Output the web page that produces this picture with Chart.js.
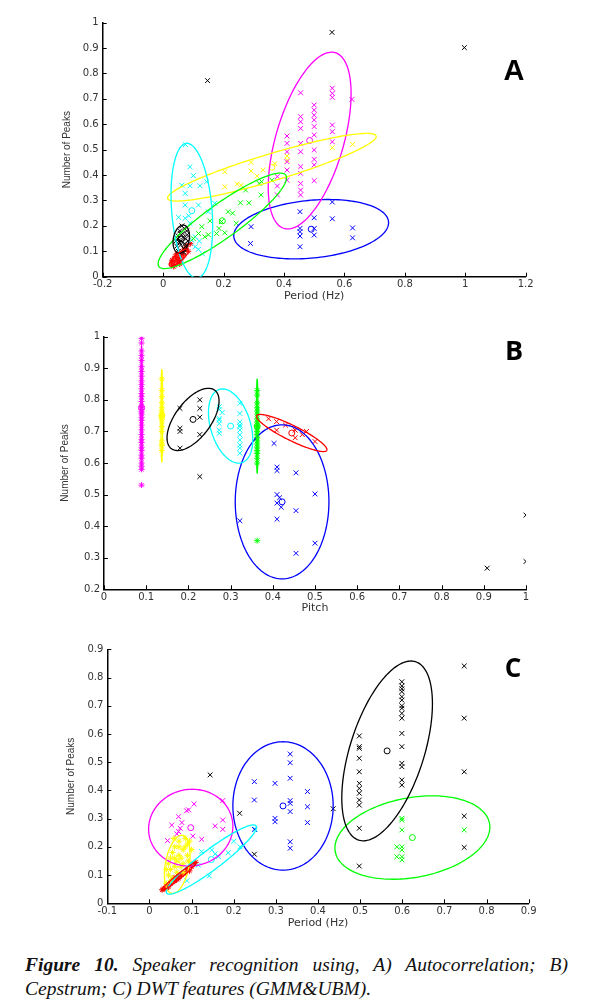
<!DOCTYPE html>
<html>
<head>
<meta charset="utf-8">
<script src="https://cdn.jsdelivr.net/npm/chart.js@4.4.0/dist/chart.umd.min.js"></script>
<style>
  html, body { margin:0; padding:0; background:#fff; }
  body { width:589px; height:1001px; position:relative; overflow:hidden; }
  .panel { position:absolute; left:0; width:589px; }
  .tag { position:absolute; line-height:1; color:#000; font-weight:bold; transform:translate(-50%,-50%); }
  .cap { position:absolute; left:25px; width:543px; font-family:"Liberation Serif", serif; font-style:italic; font-size:19.5px; line-height:24px; color:#111; white-space:nowrap; }
</style>
</head>
<body>
<div class="panel" style="top:0;height:310px"><canvas id="cA" width="589" height="310"></canvas></div>
<div class="panel" style="top:310px;height:310px"><canvas id="cB" width="589" height="310"></canvas></div>
<div class="panel" style="top:620px;height:320px"><canvas id="cC" width="589" height="320"></canvas></div>
<div class="tag" style="left:514px;top:70px;font-family:'Liberation Sans',Arial,sans-serif;font-size:29px">A</div>
<div class="tag" style="left:514px;top:349px;font-family:'Open Sans',sans-serif;font-size:27px">B</div>
<div class="tag" style="left:513px;top:667px;font-family:'Open Sans',sans-serif;font-size:26px">C</div>
<div class="cap" style="top:953px;text-align:justify;text-align-last:justify;white-space:normal"><b>Figure 10.</b> Speaker recognition using, A) Autocorrelation; B)</div>
<div class="cap" style="top:977px">Cepstrum; C) DWT features (GMM&amp;UBM).</div>
<script>
// ---------- tick values ----------
const A_xTicks = [-0.2, 0, 0.2, 0.4, 0.6, 0.8, 1, 1.2];
const A_yTicks = [0, 0.1, 0.2, 0.3, 0.4, 0.5, 0.6, 0.7, 0.8, 0.9, 1];
const B_xTicks = [0, 0.1, 0.2, 0.3, 0.4, 0.5, 0.6, 0.7, 0.8, 0.9, 1];
const B_yTicks = [0.2, 0.3, 0.4, 0.5, 0.6, 0.7, 0.8, 0.9, 1];
const C_xTicks = [-0.1, 0, 0.1, 0.2, 0.3, 0.4, 0.5, 0.6, 0.7, 0.8, 0.9];
const C_yTicks = [0, 0.1, 0.2, 0.3, 0.4, 0.5, 0.6, 0.7, 0.8, 0.9];

// ---------- axis titles ----------
const A_titles = ['Period (Hz)', 'Number of Peaks'];
const B_titles = ['Pitch', 'Number of Peaks'];
const C_titles = ['Period (Hz)', 'Number of Peaks'];

// ---------- series names (order used by ellipse arrays) ----------
const seriesNames = ['blue', 'magenta', 'yellow', 'green', 'cyan', 'black', 'red'];

// ---------- Panel A : Autocorrelation ----------
const A_blue = [[0.291,0.197],[0.289,0.131],[0.453,0.256],[0.453,0.19],[0.453,0.177],[0.453,0.16],[0.453,0.118],[0.5,0.232],[0.5,0.19],[0.5,0.164],[0.56,0.294],[0.56,0.228],[0.627,0.192],[0.627,0.153]];
const A_magenta = [[0.378,0.394],[0.378,0.357],[0.378,0.322],
  [0.41,0.554],[0.41,0.525],[0.41,0.492],[0.41,0.453],[0.41,0.42],[0.41,0.38],
  [0.455,0.724],[0.455,0.63],[0.455,0.61],[0.455,0.584],[0.455,0.525],[0.455,0.492],[0.455,0.433],[0.455,0.407],[0.455,0.367],[0.455,0.341],[0.455,0.322],
  [0.5,0.676],[0.5,0.656],[0.5,0.636],[0.5,0.617],[0.5,0.591],[0.5,0.558],[0.5,0.499],[0.5,0.462],[0.5,0.44],[0.5,0.378],
  [0.56,0.742],[0.56,0.722],[0.56,0.706],[0.56,0.597],[0.56,0.571],[0.56,0.531],[0.625,0.698]];
const A_yellow = [[0.204,0.413],[0.291,0.416],[0.311,0.396],[0.204,0.354],[0.245,0.365],[0.291,0.45],[0.411,0.459],[0.627,0.521],[0.56,0.508],[0.37,0.445],[0.41,0.475],[0.258,0.36],[0.33,0.42]];
const A_green = [[0.284,0.291],[0.256,0.291],[0.273,0.341],[0.324,0.322],[0.326,0.374],[0.215,0.256],[0.193,0.217],[0.155,0.22],[0.128,0.197],[0.138,0.157],[0.117,0.17],[0.177,0.17],[0.185,0.19],[0.204,0.173],[0.242,0.21],[0.318,0.367],[0.15,0.165],[0.23,0.25],[0.36,0.38],[0.1,0.15]];
const A_cyan = [[0.074,0.52],[0.089,0.433],[0.1,0.398],[0.089,0.358],[0.122,0.358],[0.144,0.374],[0.073,0.328],[0.062,0.36],[0.073,0.282],[0.117,0.282],[0.171,0.289],[0.149,0.256],[0.051,0.234],[0.073,0.23],[0.089,0.21],[0.106,0.157],[0.106,0.118],[0.117,0.108],[0.095,0.144],[0.12,0.14],[0.085,0.24],[0.13,0.09]];
const A_black = [[0.045,0.12],[0.05,0.16],[0.055,0.18],[0.06,0.14],[0.065,0.17],[0.07,0.19],[0.075,0.15],[0.08,0.165],[0.05,0.1],[0.058,0.125],[0.068,0.11],[0.072,0.13],[0.042,0.14],[0.062,0.2],[0.078,0.18],[0.048,0.15],[0.066,0.155],[0.054,0.135],[0.074,0.12],[0.082,0.14],[0.057,0.17],[0.069,0.095],[0.147,0.772],[0.559,0.962],[0.997,0.902]];
const A_red = [[0.028,0.05],[0.033,0.06],[0.038,0.045],[0.043,0.07],[0.048,0.055],[0.04,0.08],[0.053,0.075],[0.058,0.09],[0.063,0.1],[0.068,0.085],[0.073,0.11],[0.078,0.12],[0.083,0.1],[0.09,0.13],[0.035,0.04],[0.05,0.065],[0.06,0.07],[0.045,0.09],[0.03,0.065],[0.055,0.05]];
// ellipses: [centreX, centreY, axis1X, axis1Y, axis2X, axis2Y] in data units
const A_ellipses = [
  [0.49, 0.187, 0.256, 0.03, -0.01, 0.113],
  [0.485, 0.536, 0.0845, 0.346, 0.108, -0.037],
  [0.36, 0.431, 0.345, 0.123, 0.0129, -0.051],
  [0.196, 0.22, 0.21, 0.18, 0.033, -0.054],
  [0.095, 0.26, -0.016, 0.265, 0.067, 0.0],
  [0.06, 0.148, 0.008, 0.055, 0.026, -0.004],
  [0.052, 0.075, 0.03, 0.032, 0.01, -0.01]
];

// ---------- Panel B : Cepstrum ----------
const B_blue = [[0.403,0.662],[0.41,0.587],[0.41,0.576],[0.455,0.569],[0.41,0.5],[0.41,0.473],[0.41,0.422],[0.455,0.449],[0.322,0.417],[0.5,0.502],[0.5,0.346],[0.455,0.314],[0.416,0.49],[0.42,0.46]];
const B_magenta = [[0.089,0.995],[0.089,0.98],[0.089,0.955],[0.089,0.94],[0.089,0.925],[0.089,0.905],[0.089,0.89],[0.089,0.875],[0.089,0.86],[0.089,0.848],[0.089,0.835],[0.089,0.82],[0.089,0.81],[0.089,0.795],[0.089,0.78],[0.089,0.77],[0.089,0.762],[0.089,0.755],[0.089,0.745],[0.089,0.735],[0.089,0.72],[0.089,0.705],[0.089,0.69],[0.089,0.675],[0.089,0.665],[0.089,0.65],[0.089,0.64],[0.089,0.625],[0.089,0.615],[0.089,0.6],[0.089,0.59],[0.089,0.58],[0.089,0.53]];
const B_yellow = [[0.137,0.866],[0.137,0.83],[0.137,0.81],[0.137,0.79],[0.137,0.775],[0.137,0.765],[0.137,0.757],[0.137,0.75],[0.137,0.745],[0.137,0.74],[0.137,0.73],[0.137,0.715],[0.137,0.7],[0.137,0.67],[0.137,0.66],[0.137,0.655],[0.137,0.64]];
const B_green = [[0.363,0.83],[0.363,0.815],[0.363,0.79],[0.363,0.775],[0.363,0.765],[0.363,0.755],[0.363,0.74],[0.363,0.73],[0.363,0.72],[0.363,0.715],[0.363,0.71],[0.363,0.7],[0.363,0.69],[0.363,0.68],[0.363,0.67],[0.363,0.66],[0.363,0.65],[0.363,0.64],[0.363,0.63],[0.363,0.615],[0.363,0.6],[0.363,0.354]];
const B_cyan = [[0.273,0.778],[0.273,0.77],[0.273,0.741],[0.273,0.736],[0.273,0.725],[0.273,0.704],[0.273,0.694],[0.28,0.76],
  [0.322,0.789],[0.322,0.757],[0.322,0.73],[0.322,0.72],[0.322,0.715],[0.322,0.704],[0.322,0.689],[0.322,0.673],[0.322,0.657],[0.322,0.647],[0.322,0.631]];
const B_black = [[0.18,0.773],[0.18,0.71],[0.18,0.7],[0.18,0.647],[0.227,0.8],[0.227,0.773],[0.227,0.745],[0.227,0.69],[0.227,0.557],[1.0,0.435],[1.0,0.288],[0.908,0.267]];
const B_red = [[0.409,0.731],[0.409,0.704],[0.453,0.704],[0.453,0.68],[0.5,0.668],[0.43,0.72],[0.47,0.69],[0.39,0.74],[0.48,0.7]];
const B_ellipses = [
  [0.422, 0.477, 0.111, 0.0, 0.0, 0.244],
  [0.089, 0.775, 0.0, 0.195, 0.002, 0.0],
  [0.137, 0.75, 0.0, 0.147, 0.002, 0.0],
  [0.363, 0.717, 0.0, 0.149, 0.002, 0.0],
  [0.3, 0.717, 0.0265, -0.116, 0.0453, 0.0184],
  [0.211, 0.738, 0.0514, 0.0925, 0.034, -0.034],
  [0.445, 0.695, 0.0829, -0.0548, -0.0079, -0.0212]
];

// ---------- Panel C : DWT ----------
const C_blue = [[0.249,0.431],[0.249,0.366],[0.249,0.262],[0.298,0.425],[0.298,0.301],[0.298,0.289],[0.334,0.529],[0.334,0.498],[0.334,0.443],[0.334,0.364],[0.334,0.354],[0.334,0.325],[0.334,0.218],[0.334,0.195],[0.375,0.396],[0.375,0.342],[0.375,0.286]];
const C_magenta = [[0.106,0.352],[0.093,0.331],[0.088,0.328],[0.069,0.307],[0.077,0.286],[0.053,0.277],[0.073,0.266],[0.069,0.254],[0.065,0.246],[0.043,0.222],[0.103,0.238],[0.124,0.227],[0.156,0.274],[0.174,0.295],[0.174,0.262],[0.174,0.364]];
const C_yellow = [[0.04,0.07],[0.045,0.1],[0.05,0.12],[0.055,0.09],[0.06,0.13],[0.065,0.15],[0.07,0.17],[0.075,0.16],[0.08,0.19],[0.085,0.2],[0.09,0.21],[0.095,0.22],[0.06,0.2],[0.07,0.22],[0.05,0.16],[0.045,0.14],[0.08,0.14],[0.09,0.17],[0.065,0.11],[0.075,0.13],[0.055,0.18],[0.085,0.23],[0.04,0.12],[0.1,0.19],[0.07,0.2],[0.06,0.16],[0.05,0.08],[0.08,0.11],[0.092,0.15],[0.058,0.23]];
const C_green = [[0.599,0.301],[0.599,0.295],[0.599,0.26],[0.599,0.2],[0.599,0.189],[0.599,0.165],[0.599,0.154],[0.587,0.2],[0.587,0.165],[0.747,0.26]];
const C_cyan = [[0.148,0.189],[0.156,0.175],[0.164,0.165],[0.124,0.183],[0.187,0.179],[0.215,0.2],[0.251,0.262],[0.142,0.097],[0.116,0.135],[0.089,0.08],[0.1,0.142],[0.2,0.22]];
const C_black = [[0.498,0.593],[0.498,0.555],[0.498,0.549],[0.498,0.514],[0.498,0.466],[0.498,0.425],[0.498,0.407],[0.498,0.39],[0.498,0.366],[0.498,0.348],[0.498,0.266],[0.498,0.132],
  [0.599,0.785],[0.599,0.77],[0.599,0.76],[0.599,0.75],[0.599,0.732],[0.599,0.72],[0.599,0.7],[0.599,0.691],[0.599,0.673],[0.599,0.656],[0.599,0.602],[0.599,0.555],[0.599,0.496],[0.599,0.484],[0.599,0.437],[0.599,0.419],
  [0.747,0.841],[0.747,0.656],[0.747,0.466],[0.747,0.309],[0.747,0.198],[0.144,0.455],[0.214,0.319],[0.249,0.174],[0.436,0.335]];
const C_red = [[0.03,0.048],[0.035,0.052],[0.04,0.06],[0.045,0.058],[0.05,0.07],[0.055,0.075],[0.06,0.08],[0.058,0.09],[0.065,0.085],[0.07,0.095],[0.075,0.1],[0.08,0.105],[0.085,0.11],[0.09,0.12],[0.095,0.115],[0.1,0.13],[0.105,0.14],[0.11,0.145],[0.04,0.05],[0.068,0.088]];
const C_ellipses = [
  [0.317, 0.345, 0.119, 0.0, 0.0, 0.2275],
  [0.098, 0.268, 0.1, 0.005, 0.0, 0.136],
  [0.066, 0.138, 0.012, 0.103, 0.028, -0.005],
  [0.624, 0.233, 0.183, 0.0503, 0.0171, -0.139],
  [0.147, 0.155, 0.106, 0.1194, 0.0143, -0.0284],
  [0.564, 0.54, 0.0674, 0.316, 0.0838, -0.0397],
  [0.07, 0.095, 0.0415, 0.0505, 0.004, -0.006]
];

// ---------- styling ----------
const COLORS = { blue:'#0000ff', magenta:'#ff00ff', yellow:'#ffff00', green:'#00ff00', cyan:'#00ffff', black:'#000000', red:'#ff0000' };
const TICK_FONT = { family:'DejaVu Sans', size:10 };

function toXY(arr) { return arr.map(p => ({ x:p[0], y:p[1] })); }
function fmt(v) { return String(Math.round(v * 10) / 10); }

function gmmPlugin(ellipses) {
  return {
    id: 'gmm',
    afterDatasetsDraw(chart) {
      const { ctx, chartArea: ca, scales: { x, y } } = chart;
      ctx.save();
      ctx.beginPath();
      ctx.rect(ca.left, ca.top, ca.right - ca.left, ca.bottom - ca.top);
      ctx.clip();
      ellipses.forEach((e, i) => {
        const [cx, cy, ax, ay, bx, by] = e;
        ctx.beginPath();
        for (let k = 0; k <= 160; k++) {
          const t = k / 160 * Math.PI * 2;
          const vx = cx + ax * Math.cos(t) + bx * Math.sin(t);
          const vy = cy + ay * Math.cos(t) + by * Math.sin(t);
          const px = x.getPixelForValue(vx), py = y.getPixelForValue(vy);
          if (k === 0) ctx.moveTo(px, py); else ctx.lineTo(px, py);
        }
        ctx.strokeStyle = COLORS[seriesNames[i]];
        ctx.lineWidth = 1.3;
        ctx.stroke();
      });
      ctx.restore();
      // inward tick marks
      ctx.save();
      ctx.strokeStyle = '#000';
      ctx.lineWidth = 1;
      ctx.beginPath();
      x.ticks.forEach(t => { const px = Math.round(x.getPixelForValue(t.value)) + 0.5; ctx.moveTo(px, ca.bottom); ctx.lineTo(px, ca.bottom - 4); });
      y.ticks.forEach(t => { const py = Math.round(y.getPixelForValue(t.value)) + 0.5; ctx.moveTo(ca.left, py); ctx.lineTo(ca.left + 4, py); });
      ctx.stroke();
      ctx.restore();
    }
  };
}

function makeChart(id, cfg) {
  const datasets = [];
  seriesNames.forEach((name, i) => {
    const pts = cfg.series[i];
    datasets.push({
      label: name,
      data: toXY(pts),
      pointStyle: cfg.stars.includes(name) ? 'star' : 'crossRot',
      pointRadius: cfg.stars.includes(name) ? 3 : 3.4,
      pointBorderColor: COLORS[name],
      pointBackgroundColor: COLORS[name],
      pointBorderWidth: 1,
      showLine: false
    });
  });
  datasets.push({
    label: 'centres',
    data: cfg.ellipses.map(e => ({ x:e[0], y:e[1] })),
    pointStyle: 'circle',
    pointRadius: 3,
    pointBorderWidth: 1,
    pointBorderColor: seriesNames.map(n => COLORS[n]),
    pointBackgroundColor: 'rgba(0,0,0,0)',
    showLine: false
  });
  return new Chart(document.getElementById(id), {
    type: 'scatter',
    data: { datasets },
    plugins: [gmmPlugin(cfg.ellipses)],
    options: {
      responsive: false,
      animation: false,
      devicePixelRatio: 1,
      layout: { padding: { top: cfg.padTop, right: cfg.padRight, bottom: 0, left: 0 } },
      plugins: { legend: { display:false }, tooltip: { enabled:false } },
      scales: {
        x: {
          type: 'linear', position: 'bottom',
          min: cfg.xTicks[0], max: cfg.xTicks[cfg.xTicks.length - 1],
          grid: { display:false, drawTicks:false },
          border: { display:true, color:'#000', width:1.5 },
          afterBuildTicks: s => { s.ticks = cfg.xTicks.map(v => ({ value:v })); },
          afterFit: s => { s.height = cfg.xAxisH; },
          ticks: { font: TICK_FONT, color:'#333', padding:2, autoSkip:false, maxRotation:0, callback: v => fmt(v) },
          title: { display:true, text: cfg.titles[0], color:'#333', font:{ family:'DejaVu Sans', size:11 }, padding:{ top:0, bottom:cfg.xTitlePad } }
        },
        y: {
          type: 'linear', position: 'left',
          min: cfg.yTicks[0], max: cfg.yTicks[cfg.yTicks.length - 1],
          grid: { display:false, drawTicks:false },
          border: { display:true, color:'#000', width:1.5 },
          afterBuildTicks: s => { s.ticks = cfg.yTicks.map(v => ({ value:v })); },
          afterFit: s => { s.width = cfg.yAxisW; },
          ticks: { font: TICK_FONT, color:'#333', padding:4, autoSkip:false, callback: v => fmt(v) },
          title: { display:true, text: cfg.titles[1], color:'#333', font:{ family:'Liberation Sans', size:10 }, padding:{ top:cfg.yTitlePad, bottom:0 } }
        }
      }
    }
  });
}

makeChart('cA', {
  series: [A_blue, A_magenta, A_yellow, A_green, A_cyan, A_black, A_red],
  ellipses: A_ellipses, stars: ['red'],
  xTicks: A_xTicks, yTicks: A_yTicks, titles: A_titles,
  padTop: 22.7, padRight: 63.3, xAxisH: 33.3, yAxisW: 102.7, xTitlePad: 7.4, yTitlePad: 61.3
});
makeChart('cB', {
  series: [B_blue, B_magenta, B_yellow, B_green, B_cyan, B_black, B_red],
  ellipses: B_ellipses, stars: ['magenta', 'yellow', 'green'],
  xTicks: B_xTicks, yTicks: B_yTicks, titles: B_titles,
  padTop: 26.7, padRight: 63, xAxisH: 30.7, yAxisW: 104, xTitlePad: 5.4, yTitlePad: 59
});
makeChart('cC', {
  series: [C_blue, C_magenta, C_yellow, C_green, C_cyan, C_black, C_red],
  ellipses: C_ellipses, stars: ['yellow', 'red'],
  xTicks: C_xTicks, yTicks: C_yTicks, titles: C_titles,
  padTop: 29.3, padRight: 60.3, xAxisH: 36.7, yAxisW: 107.3, xTitlePad: 10.4, yTitlePad: 65
});
</script>
</body>
</html>
